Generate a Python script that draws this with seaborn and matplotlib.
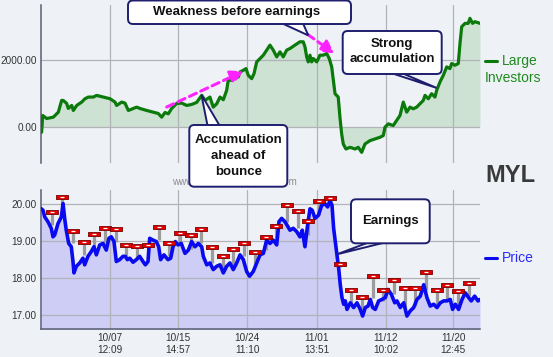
import numpy as np
import matplotlib
matplotlib.use("Agg")
import matplotlib.pyplot as plt
import seaborn as sns
from matplotlib.patches import FancyBboxPatch, Polygon
from matplotlib.lines import Line2D
from matplotlib.transforms import Affine2D
from matplotlib.ticker import StrMethodFormatter

# x axis = trading days counted from 9/30 (one red high marker per day)
inv_day = [-0.93, -0.83, -0.46, 0.16, 0.63, 0.94, 1.09, 1.41, 1.56, 1.88,
           2.03, 2.35, 2.81, 3.12, 3.43, 3.90, 4.21, 4.83, 5.46, 5.93,
           6.08, 6.55, 6.86, 7.17, 7.64, 7.95, 8.26, 8.89, 9.50, 9.97,
           10.29, 10.60, 10.91, 11.22, 11.69, 12.16, 12.63, 13.09, 13.56, 14.03,
           14.34, 14.80, 15.11, 15.43, 15.74, 16.05, 16.36, 16.51, 16.83, 17.14,
           17.45, 17.61, 17.92, 18.17, 18.38, 18.70, 18.92, 19.17, 19.48, 19.79,
           20.10, 20.41, 20.72, 21.04, 21.35, 21.65, 21.97, 22.28, 22.75, 23.21,
           23.52, 23.68, 23.84, 23.99, 24.15, 24.31, 24.46, 24.78, 25.08, 25.39,
           25.71, 25.95, 26.18, 26.33, 26.49, 26.64, 26.79, 26.95, 27.11, 27.26,
           27.51, 27.89, 28.36, 28.66, 28.98, 29.29, 29.76, 30.22, 30.69, 31.00,
           31.16, 31.47, 31.93, 32.25, 32.56, 32.87, 33.03, 33.19, 33.50, 33.80,
           34.12, 34.43, 34.74, 34.90, 35.21, 35.52, 35.83, 35.99, 36.30, 36.61,
           36.93, 37.23, 37.39, 37.70, 38.01, 38.17, 38.33, 38.64, 38.94, 39.10,
           39.35, 39.57, 40.04]
inv_val = [-170, 330, 240, 280, 430, 780, 780, 690, 540, 630,
           480, 630, 730, 830, 880, 880, 930, 880, 830, 730,
           630, 730, 700, 480, 540, 580, 540, 480, 430, 390,
           280, 420, 380, 540, 690, 700, 630, 660, 720, 930,
           780, 880, 580, 680, 880, 800, 1080, 1380, 1380, 1480,
           1480, 1630, 1680, 1730, 1530, 1430, 1580, 1930, 2030, 2130,
           2280, 2430, 2280, 2080, 2230, 2080, 2280, 2330, 2430, 2530,
           2530, 2380, 2080, 1930, 2130, 1930, 2030, 1930, 2130, 2130,
           2180, 2030, 1780, 1380, 980, 930, 880, 280, -220, -520,
           -670, -620, -670, -620, -770, -520, -420, -370, -320, -270,
           -20, 80, 30, 180, 330, 730, 580, 430, 580, 530,
           580, 680, 780, 930, 830, 980, 880, 1080, 1330, 1530,
           1780, 1730, 1880, 1830, 1880, 2480, 2980, 3080, 3080, 3230,
           3080, 3130, 3080]

price_day = [-0.96, -0.80, -0.64, -0.34, -0.03, 0.13, 0.29, 0.60, 0.91, 1.07,
             1.22, 1.37, 1.60, 1.84, 2.00, 2.09, 2.31, 2.63, 2.93, 3.09,
             3.40, 3.71, 3.96, 4.18, 4.50, 4.80, 5.11, 5.36, 5.58, 5.83,
             6.05, 6.36, 6.67, 6.89, 7.08, 7.30, 7.61, 7.92, 8.23, 8.54,
             8.76, 9.01, 9.17, 9.48, 9.79, 10.01, 10.19, 10.50, 10.88, 11.13,
             11.35, 11.56, 11.81, 12.12, 12.47, 12.78, 13.09, 13.40, 13.71, 14.03,
             14.18, 14.50, 14.80, 15.11, 15.43, 15.74, 16.05, 16.36, 16.67, 16.98,
             17.30, 17.61, 17.92, 18.23, 18.50, 18.85, 19.17, 19.48, 19.79, 20.10,
             20.41, 20.72, 21.04, 21.25, 21.50, 21.81, 22.28, 22.59, 22.91, 23.21,
             23.43, 23.68, 23.93, 24.15, 24.36, 24.62, 24.93, 25.24, 25.55, 25.80,
             26.02, 26.21, 26.36, 26.51, 26.67, 26.83, 26.98, 27.14, 27.30, 27.45,
             27.61, 27.92, 28.23, 28.54, 28.85, 29.07, 29.32, 29.57, 29.79, 30.01,
             30.25, 30.57, 30.88, 31.19, 31.44, 31.75, 32.07, 32.28, 32.59, 32.91,
             33.21, 33.52, 33.84, 34.15, 34.46, 34.78, 35.08, 35.39, 35.71, 36.02,
             36.33, 36.64, 36.95, 37.26, 37.48, 37.73, 38.04, 38.36, 38.66, 38.98,
             39.22, 39.54, 39.85, 40.04]
price_val = [19.88, 19.84, 19.66, 19.53, 19.35, 19.12, 19.17, 19.48, 19.66, 20.02,
             19.62, 19.30, 18.94, 18.85, 18.45, 18.14, 18.32, 18.41, 18.54, 18.36,
             18.59, 18.72, 18.85, 18.63, 18.90, 18.94, 18.76, 19.08, 19.12, 18.99,
             18.45, 18.50, 18.59, 18.59, 18.50, 18.54, 18.43, 18.50, 18.59, 18.45,
             18.36, 18.45, 19.08, 19.03, 18.99, 18.85, 18.50, 18.63, 18.50, 18.54,
             18.85, 18.99, 18.90, 18.94, 18.67, 18.76, 18.99, 18.85, 18.94, 18.85,
             18.59, 18.36, 18.41, 18.23, 18.32, 18.36, 18.14, 18.32, 18.41, 18.23,
             18.41, 18.63, 18.50, 18.18, 18.05, 18.18, 18.41, 18.63, 18.67, 19.03,
             18.94, 19.03, 18.90, 19.53, 19.62, 19.53, 19.30, 19.35, 19.26, 19.12,
             19.30, 18.85, 19.44, 19.88, 19.84, 19.62, 19.70, 19.97, 20.02, 19.93,
             20.11, 19.97, 19.35, 18.99, 18.63, 18.27, 17.82, 17.47, 17.29, 17.38,
             17.15, 17.33, 17.20, 17.33, 17.15, 16.97, 17.20, 17.24, 17.42, 17.20,
             17.15, 17.38, 17.42, 17.47, 17.69, 17.56, 17.33, 17.38, 17.20, 17.33,
             16.97, 17.11, 17.20, 17.42, 17.51, 17.82, 17.47, 17.24, 17.29, 17.20,
             17.33, 17.38, 17.38, 17.42, 17.15, 17.29, 17.15, 17.42, 17.60, 17.47,
             17.38, 17.51, 17.38, 17.42]

# daily high markers and where their stems end
high_day = list(range(40))
high_val = [19.78, 20.20, 19.29, 18.99, 19.20, 19.35, 19.32, 18.91, 18.87, 18.91,
            19.39, 18.96, 19.23, 19.18, 19.34, 18.84, 18.61, 18.78, 18.94, 18.70,
            19.12, 19.42, 19.98, 19.82, 19.56, 20.10, 20.18, 18.39, 17.69, 17.50,
            18.05, 17.69, 17.96, 17.73, 17.73, 18.16, 17.69, 17.81, 17.66, 17.87]
stem_low = [19.45, 19.80, 18.95, 18.63, 18.85, 18.94, 18.99, 18.59, 18.54, 18.60,
            19.03, 18.59, 18.94, 18.80, 18.94, 18.41, 18.27, 18.36, 18.59, 18.32,
            18.76, 19.03, 19.53, 19.35, 19.17, 19.70, 19.97, 18.30, 17.29, 17.11,
            17.47, 17.38, 17.56, 17.15, 17.24, 17.69, 17.29, 17.38, 17.24, 17.51]

tick_day = [5.46, 11.84, 18.29, 24.78, 31.22, 37.54]
tick_lab = ["10/07\n12:09", "10/15\n14:57", "10/24\n11:10",
            "11/01\n13:51", "11/12\n10:02", "11/20\n12:45"]

BG = "#eef2f6"
GREEN = "#0b7a0b"
BLUE = "#0a0af0"
NAVY = "#1e1e6e"
MAGENTA = "#ff22ff"

sns.set_style("whitegrid")
plt.rcParams["font.family"] = ["Liberation Sans", "DejaVu Sans"]

W, H, DPI = 553, 357, 100
fig = plt.figure(figsize=(W / DPI, H / DPI), dpi=DPI, facecolor=BG)
# pixel coords measured from the top-left corner
px = Affine2D().scale(1 / DPI, -1 / DPI).translate(0, H / DPI) + fig.dpi_scale_trans


def rect(x0, y0, x1, y1):
    return [x0 / W, 1 - y1 / H, (x1 - x0) / W, (y1 - y0) / H]


ax_top = fig.add_axes(rect(41, 5, 480, 163))
ax_bot = fig.add_axes(rect(41, 190, 480, 329.3))

for ax in (ax_top, ax_bot):
    ax.set_facecolor(BG)
    ax.set_axisbelow(True)
    ax.grid(True, color="#b2b2b8", lw=0.9)
    ax.set_xlim(-0.99, 40.04)
    ax.set_xticks(tick_day)
    ax.tick_params(length=0, labelsize=7.2, labelcolor="#333333", pad=3)
    for s in ax.spines.values():
        s.set_visible(False)
    ax.spines["left"].set_visible(True)
    ax.spines["left"].set_color("#5a5e72")
    ax.spines["left"].set_linewidth(1.1)
    ax.yaxis.set_major_formatter(StrMethodFormatter("{x:.2f}"))

# top panel: large investors
ax_top.set_ylim(-1088, 3628)
ax_top.set_yticks([0, 2000])
ax_top.tick_params(labelbottom=False)
ax_top.fill_between(inv_day, inv_val, 0, color="#cde2d3", lw=0, zorder=0.3)
sns.lineplot(x=inv_day, y=inv_val, ax=ax_top, color=GREEN, lw=2.3, zorder=3)

# bottom panel: price
ax_bot.set_ylim(16.61, 20.39)
ax_bot.set_yticks([17, 18, 19, 20])
ax_bot.spines["bottom"].set_visible(True)
ax_bot.spines["bottom"].set_color("#5a5e72")
ax_bot.spines["bottom"].set_linewidth(1.1)
ax_bot.set_xticklabels(tick_lab, linespacing=1.15)
ax_bot.fill_between(price_day, price_val, 16.0, color="#cdcdf6", lw=0, zorder=0.3)
ax_bot.vlines(high_day, stem_low, high_val, colors="#9c9c9c", lw=2.3, zorder=2)
sns.lineplot(x=price_day, y=price_val, ax=ax_bot, color=BLUE, lw=2.6, zorder=3)
bar = [(-1, -0.3), (1, -0.3), (1, 0.3), (-1, 0.3), (-1, -0.3)]
ax_bot.scatter(high_day, high_val, marker=bar, s=80, c="#e00000",
               edgecolors="#7a0000", linewidths=0.6, zorder=4)
ax_bot.scatter(high_day, high_val, marker="_", s=5, c="white", linewidths=0.9, zorder=5)
for ax in (ax_top, ax_bot):
    ax.set_xlabel("")
    ax.set_ylabel("")

# dashed magenta arrows
for start, end in [((10.76, 582), (17.92, 1650)), ((23.93, 2751), (26.42, 2181))]:
    ax_top.annotate("", xy=end, xytext=start,
                    arrowprops=dict(arrowstyle="-|>,head_length=0.75,head_width=0.4",
                                    color=MAGENTA, lw=2.2, ls=(0, (2.5, 1.6)),
                                    shrinkA=0, shrinkB=0), zorder=6)


def callout(ax, text, box, base, tip, tx, ty):
    tip_px = px.inverted().transform(ax.transData.transform(tip))
    fig.add_artist(Polygon([base[0], tip_px, base[1]], closed=True, transform=px,
                           fc="white", ec=NAVY, lw=1.4, zorder=5))
    x0, y0, x1, y1 = box
    fig.add_artist(FancyBboxPatch((x0, y0), x1 - x0, y1 - y0,
                                  boxstyle="round,pad=0,rounding_size=5",
                                  transform=px, fc="white", ec=NAVY, lw=1.4, zorder=6))
    fig.text(tx, ty, text, transform=px, ha="center", va="center", fontsize=9.5,
             fontweight="bold", color="#111111", linespacing=1.4, zorder=7)


# watermark partly hidden behind a callout
fig.text(172, 182, "www.stockmarketcharts.com", transform=px, ha="left", va="center",
         fontsize=7.1, color="#8c8c8c", zorder=1)

callout(ax_top, "Weakness before earnings", (128, 0.5, 351, 24),
        [(277, 21), (302, 21)], (23.99, 2721), 237, 12.5)
callout(ax_top, "Accumulation\nahead of\nbounce", (189.3, 125, 287.3, 186.7),
        [(208, 128), (221, 128)], (14.00, 951), 238.3, 156)
callout(ax_top, "Strong\naccumulation", (342.7, 31, 441.7, 74),
        [(385, 71), (397, 71)], (35.99, 1152), 392, 51.5)
callout(ax_bot, "Earnings", (351, 199.3, 429.7, 243.3),
        [(375, 240), (395, 240)], (26.67, 18.645), 390.3, 221)

# right side labels
fig.add_artist(Line2D([485, 497], [61, 61], transform=px, color=GREEN, lw=2.2))
fig.text(501.5, 61, "Large", transform=px, va="center", fontsize=10, color="#1e8a1e")
fig.text(485, 77.5, "Investors", transform=px, va="center", fontsize=10, color="#1e8a1e")
fig.text(485, 176, "MYL", transform=px, va="center", fontsize=17, fontweight="bold",
         color="#3a3a3a")
fig.add_artist(Line2D([485, 497], [258.3, 258.3], transform=px, color=BLUE, lw=2.2))
fig.text(501.5, 258.3, "Price", transform=px, va="center", fontsize=10, color="#2a2aff")

fig.savefig("out.png", dpi=DPI, facecolor=BG)
